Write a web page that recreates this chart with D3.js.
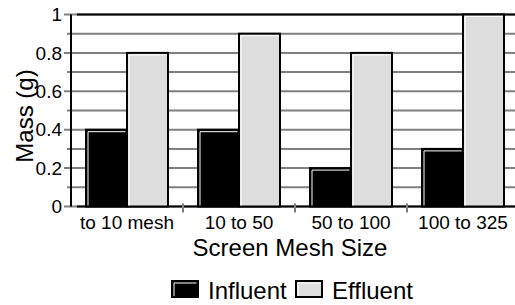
<!DOCTYPE html>
<html>
<head>
<meta charset="utf-8">
<script src="https://cdn.jsdelivr.net/npm/d3@7"></script>
<style>
  body { margin: 0; background: #fff; }
  svg { display: block; font-family: "Liberation Sans", Arial, sans-serif; }
</style>
</head>
<body>
<div id="chart"></div>
<script>
// data
let categories = ["to 10 mesh", "10 to 50", "50 to 100", "100 to 325"];
let seriesNames = ["Influent", "Effluent"];
let influent = [0.4, 0.4, 0.2, 0.3];
let effluent = [0.8, 0.9, 0.8, 1.0];
let yTicks = [0, 0.2, 0.4, 0.6, 0.8, 1];
let yGrid = d3.range(0, 11).map(d => d / 10);
let fills = { "Influent": "#000", "Effluent": "#dddddd" };

let width = 515, height = 305;
let plotLeft = 71, plotRight = 519, plotTop = 14.5, plotBottom = 206.5;

let svg = d3.select("#chart").append("svg")
    .attr("width", width)
    .attr("height", height);

let y = d3.scaleLinear().domain([0, 1]).range([plotBottom, plotTop]);
let x0 = d3.scaleBand().domain(categories).range([plotLeft, plotRight]).padding(0);
let x1 = d3.scaleBand().domain(seriesNames).range([0, x0.bandwidth()])
    .paddingInner(0).paddingOuter(0.366);

// gray grid lines, poking out left as ticks
svg.selectAll(".grid").data(yGrid).enter()
    .append("line")
    .attr("class", "grid")
    .attr("x1", d => (Math.round(d * 10) % 2 == 0) ? plotLeft - 7 : plotLeft - 4)
    .attr("x2", width)
    .attr("y1", d => y(d))
    .attr("y2", d => y(d))
    .attr("stroke", "#808080")
    .attr("stroke-width", 2);

// top and bottom frame lines
svg.selectAll(".frame").data([0, 1]).enter()
    .append("line")
    .attr("x1", plotLeft + 6)
    .attr("x2", width)
    .attr("y1", d => y(d))
    .attr("y2", d => y(d))
    .attr("stroke", "#000")
    .attr("stroke-width", 2);

// x tick marks between categories
svg.selectAll(".xtick").data(categories.slice(1)).enter()
    .append("line")
    .attr("x1", d => x0(d))
    .attr("x2", d => x0(d))
    .attr("y1", plotBottom - 3)
    .attr("y2", plotBottom + 6)
    .attr("stroke", "#808080")
    .attr("stroke-width", 2);

let rows = categories.map((c, i) => ({ cat: c, vals: [
    { name: "Influent", v: influent[i] },
    { name: "Effluent", v: effluent[i] }
]}));

let groups = svg.selectAll(".grp").data(rows).enter()
    .append("g")
    .attr("transform", d => "translate(" + x0(d.cat) + ",0)");

let bars = groups.selectAll(".bar").data(d => d.vals).enter().append("g");

bars.append("rect")
    .attr("x", d => x1(d.name))
    .attr("y", d => y(d.v))
    .attr("width", x1.bandwidth())
    .attr("height", d => y(0) - y(d.v))
    .attr("fill", d => fills[d.name])
    .attr("stroke", "#000")
    .attr("stroke-width", 2);

// little white bevel on top and left
bars.append("path")
    .attr("d", d => {
        let bx = x1(d.name) + 2, by = y(d.v) + 2;
        return "M" + bx + "," + (y(0) - 1) + "V" + by + "H" + (x1(d.name) + x1.bandwidth() - 1.5);
    })
    .attr("fill", "none")
    .attr("stroke", "#fff")
    .attr("stroke-width", 1);

// left axis line
svg.append("line")
    .attr("x1", plotLeft).attr("x2", plotLeft)
    .attr("y1", plotTop).attr("y2", plotBottom)
    .attr("stroke", "#000")
    .attr("stroke-width", 2);

svg.selectAll(".ylab").data(yTicks).enter()
    .append("text")
    .text(d => d)
    .attr("x", plotLeft - 9)
    .attr("y", d => y(d))
    .attr("dy", "0.35em")
    .attr("text-anchor", "end")
    .attr("font-size", 19)
    .attr("fill", "#000");

svg.selectAll(".xlab").data(categories).enter()
    .append("text")
    .text(d => d)
    .attr("x", d => x0(d) + x0.bandwidth() / 2)
    .attr("y", 229)
    .attr("text-anchor", "middle")
    .attr("font-size", 19)
    .attr("fill", "#000");

svg.append("text")
    .text("Screen Mesh Size")
    .attr("x", 290)
    .attr("y", 256)
    .attr("text-anchor", "middle")
    .attr("font-size", 24);

svg.append("text")
    .text("Mass (g)")
    .attr("transform", "translate(33,116) rotate(-90)")
    .attr("text-anchor", "middle")
    .attr("font-size", 24);

// legend
let legX = [172, 296];
let leg = svg.selectAll(".leg").data(seriesNames).enter()
    .append("g")
    .attr("transform", (d, i) => "translate(" + legX[i] + ",281)");

leg.append("rect")
    .attr("width", 26)
    .attr("height", 16)
    .attr("fill", d => fills[d])
    .attr("stroke", "#000")
    .attr("stroke-width", 2);

leg.append("path")
    .attr("d", "M2,15V2H24.5")
    .attr("fill", "none")
    .attr("stroke", "#fff")
    .attr("stroke-width", 1);

leg.append("text")
    .text(d => d)
    .attr("x", 36)
    .attr("y", 18)
    .attr("font-size", 24);
</script>
</body>
</html>
